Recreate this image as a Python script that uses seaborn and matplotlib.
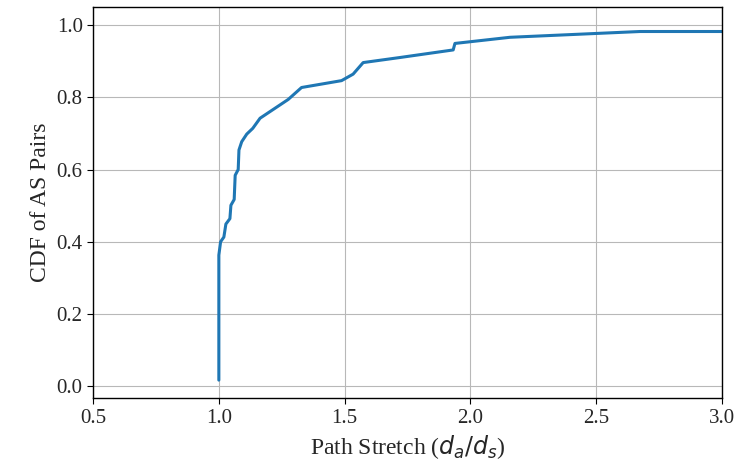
import matplotlib
matplotlib.use("Agg")
import matplotlib.pyplot as plt
import seaborn as sns
import pandas as pd

# CDF of path stretch
stretch = [1.0, 1.0, 1.007, 1.02, 1.028, 1.044, 1.048, 1.061, 1.065, 1.077,
           1.080, 1.091, 1.111, 1.135, 1.164, 1.276, 1.329, 1.488, 1.534,
           1.574, 1.72, 1.932, 1.939, 2.158, 2.675, 3.0]
cdf = [0.017, 0.363, 0.400, 0.413, 0.449, 0.464, 0.501, 0.517, 0.584, 0.600,
       0.654, 0.677, 0.698, 0.714, 0.742, 0.794, 0.827, 0.846, 0.864,
       0.896, 0.910, 0.931, 0.949, 0.966, 0.982, 0.982]

x_ticks = [0.5, 1.0, 1.5, 2.0, 2.5, 3.0]
y_ticks = [0.0, 0.2, 0.4, 0.6, 0.8, 1.0]

sns.set_style("ticks")
plt.rcParams['font.family'] = ['Liberation Serif', 'DejaVu Serif']
plt.rcParams['mathtext.fontset'] = 'dejavusans'

df = pd.DataFrame({'stretch': stretch, 'cdf': cdf})

fig, ax = plt.subplots(figsize=(7.51, 4.63), dpi=100)
fig.subplots_adjust(left=0.124, right=0.961, top=0.985, bottom=0.14)

sns.lineplot(data=df, x='stretch', y='cdf', ax=ax, color='#1f77b4',
             linewidth=2.2, sort=False, estimator=None)

ax.set_xlim(0.5, 3.0)
ax.set_ylim(-0.033, 1.05)
ax.set_xticks(x_ticks)
ax.set_yticks(y_ticks)
ax.grid(True, color='#b8b8b8', linewidth=0.8)
ax.set_axisbelow(True)
for s in ax.spines.values():
    s.set_color('black')
    s.set_linewidth(1.0)
ax.tick_params(labelsize=15, direction='out', length=4, color='black')

ax.set_xlabel('Path Stretch ($d_a/d_s$)', fontsize=17)
ax.set_ylabel('CDF of AS Pairs', fontsize=17)

fig.savefig('out.png', dpi=100)
